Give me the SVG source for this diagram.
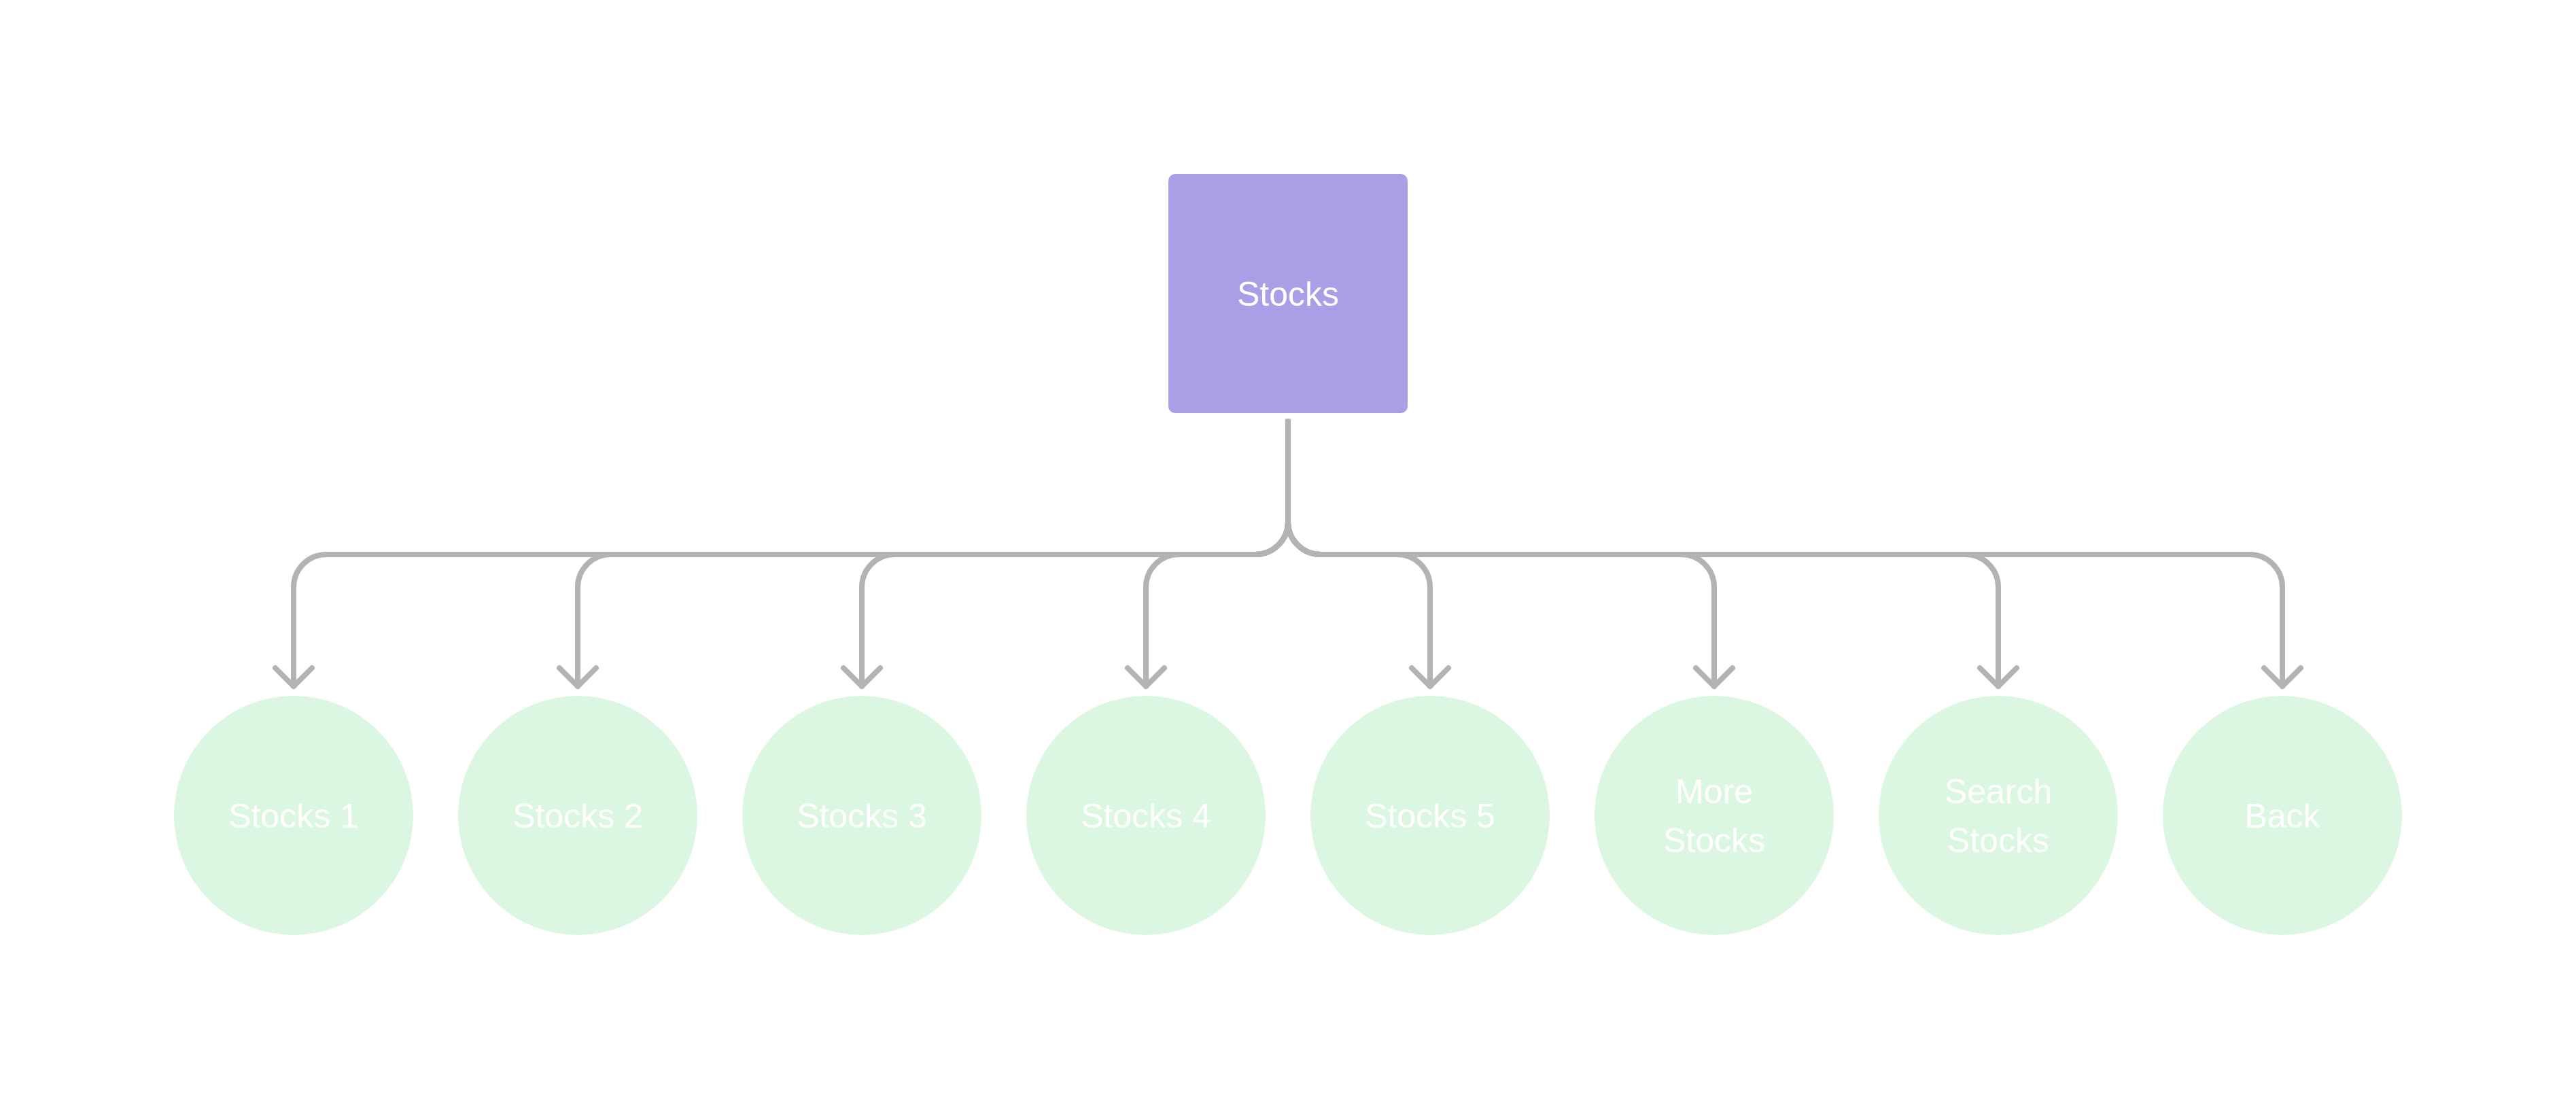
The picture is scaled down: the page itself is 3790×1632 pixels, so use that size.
<svg xmlns="http://www.w3.org/2000/svg" width="3790" height="1632" viewBox="0 0 3790 1632">
<style>
.bg{fill:#ffffff}
.root{fill:#ab9ee7}
.leaf{fill:#dcf7e1}
.lbl{font-family:"Liberation Sans",Arial,sans-serif;font-size:50px;fill:#ffffff;text-anchor:middle}
.edge{fill:none;stroke:#b3b3b3;stroke-width:8;stroke-linecap:round;stroke-linejoin:round}
</style>
<defs>
<marker id="arr" markerUnits="userSpaceOnUse" viewBox="-40 -40 80 80" markerWidth="80" markerHeight="80" refX="0" refY="0" orient="auto" overflow="visible">
<path d="M -27 -27 L 0 0 L -27 27" fill="none" stroke="#b3b3b3" stroke-width="8" stroke-linecap="round" stroke-linejoin="round"/>
</marker>
</defs>
<rect class="bg" x="0" y="0" width="3790" height="1632"/>
<g id="connectors">
<path class="edge" marker-end="url(#arr)" d="M 1895 620 V 768 A 48 48 0 0 1 1847 816 H 480 A 48 48 0 0 0 432 864 V 1010"/>
<path class="edge" marker-end="url(#arr)" d="M 1895 620 V 768 A 48 48 0 0 1 1847 816 H 898 A 48 48 0 0 0 850 864 V 1010"/>
<path class="edge" marker-end="url(#arr)" d="M 1895 620 V 768 A 48 48 0 0 1 1847 816 H 1316 A 48 48 0 0 0 1268 864 V 1010"/>
<path class="edge" marker-end="url(#arr)" d="M 1895 620 V 768 A 48 48 0 0 1 1847 816 H 1734 A 48 48 0 0 0 1686 864 V 1010"/>
<path class="edge" marker-end="url(#arr)" d="M 1895 620 V 768 A 48 48 0 0 0 1943 816 H 2056 A 48 48 0 0 1 2104 864 V 1010"/>
<path class="edge" marker-end="url(#arr)" d="M 1895 620 V 768 A 48 48 0 0 0 1943 816 H 2474 A 48 48 0 0 1 2522 864 V 1010"/>
<path class="edge" marker-end="url(#arr)" d="M 1895 620 V 768 A 48 48 0 0 0 1943 816 H 2892 A 48 48 0 0 1 2940 864 V 1010"/>
<path class="edge" marker-end="url(#arr)" d="M 1895 620 V 768 A 48 48 0 0 0 1943 816 H 3310 A 48 48 0 0 1 3358 864 V 1010"/>
</g>
<g id="node-root">
<rect class="root" x="1719" y="256" width="352" height="352" rx="10"/>
<text class="lbl" x="1895" y="450">Stocks</text>
</g>
<g id="node-stocks1">
<circle class="leaf" cx="432" cy="1200" r="176"/>
<text class="lbl" x="432" y="1218">Stocks 1</text>
</g>
<g id="node-stocks2">
<circle class="leaf" cx="850" cy="1200" r="176"/>
<text class="lbl" x="850" y="1218">Stocks 2</text>
</g>
<g id="node-stocks3">
<circle class="leaf" cx="1268" cy="1200" r="176"/>
<text class="lbl" x="1268" y="1218">Stocks 3</text>
</g>
<g id="node-stocks4">
<circle class="leaf" cx="1686" cy="1200" r="176"/>
<text class="lbl" x="1686" y="1218">Stocks 4</text>
</g>
<g id="node-stocks5">
<circle class="leaf" cx="2104" cy="1200" r="176"/>
<text class="lbl" x="2104" y="1218">Stocks 5</text>
</g>
<g id="node-more">
<circle class="leaf" cx="2522" cy="1200" r="176"/>
<text class="lbl" x="2522" y="1182">More</text>
<text class="lbl" x="2522" y="1254">Stocks</text>
</g>
<g id="node-search">
<circle class="leaf" cx="2940" cy="1200" r="176"/>
<text class="lbl" x="2940" y="1182">Search</text>
<text class="lbl" x="2940" y="1254">Stocks</text>
</g>
<g id="node-back">
<circle class="leaf" cx="3358" cy="1200" r="176"/>
<text class="lbl" x="3358" y="1218">Back</text>
</g>
</svg>
